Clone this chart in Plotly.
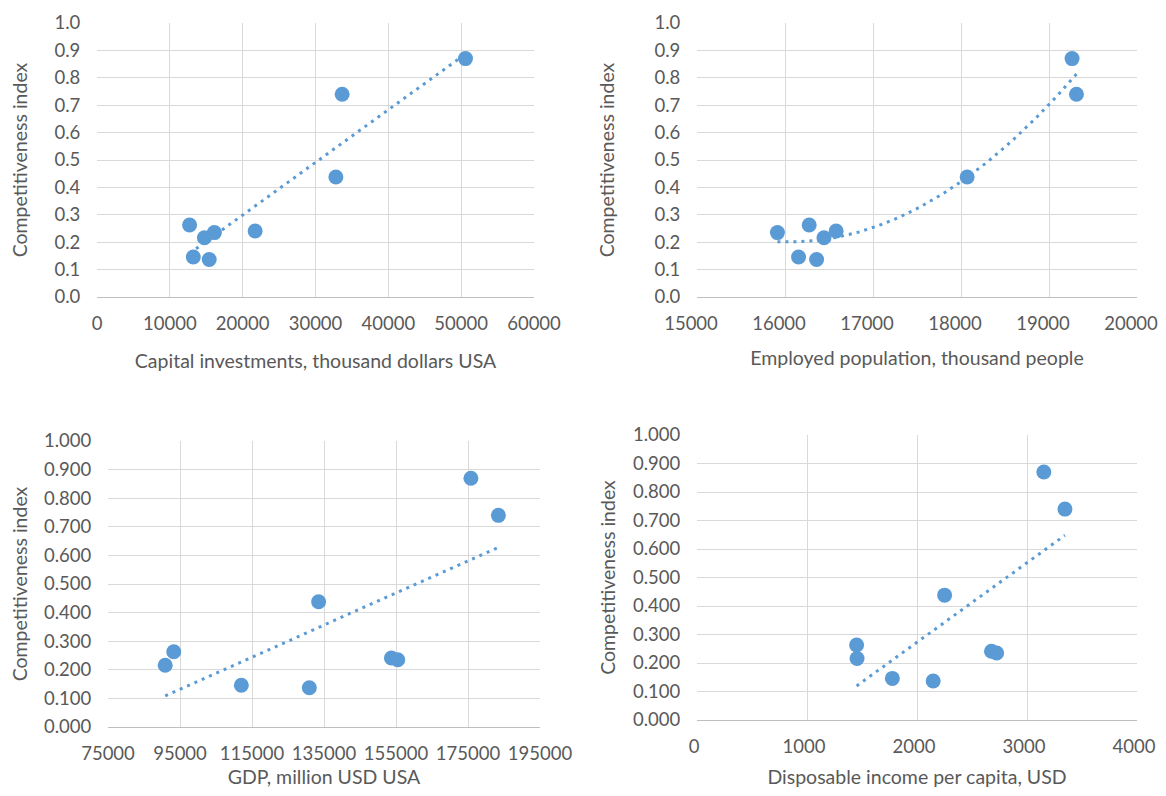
import numpy as np
import plotly.graph_objects as go
from plotly.subplots import make_subplots

# Competitiveness index of nine regions
competitiveness = [0.870, 0.740, 0.438, 0.241, 0.263, 0.146, 0.137, 0.216, 0.235]

capital_investments = [50593, 33661, 32797, 21712, 12712, 13220, 15407, 14746, 16119]
employed_population = [19262, 19312, 18070, 16581, 16275, 16154, 16359, 16443, 15914]
gdp = [175808, 183443, 133504, 153727, 93263, 112042, 130924, 90890, 155481]
disposable_income = [3153, 3345, 2251, 2677, 1451, 1776, 2147, 1455, 2724]

x_titles = ["Capital investments, thousand dollars USA",
            "Employed population, thousand people",
            "GDP, million USD USA",
            "Disposable income per capita, USD"]
y_title = "Competitiveness index"

x_ranges = [[0, 60000], [15000, 20000], [75000, 195000], [0, 4000]]
x_dticks = [10000, 1000, 20000, 1000]
y_formats = [".1f", ".1f", ".3f", ".3f"]
trend_orders = [1, 2, 1, 1]

xs = [capital_investments, employed_population, gdp, disposable_income]

BLUE = "#5b9bd5"
TXT = "#595959"
FONT = "Lato"

W, H, OFF = 1150, 780, 8  # page body margin offsets the figure by 8px


def dx(px):
    return (px - OFF) / W


def dy(py):
    return 1 - (py - OFF) / H


domains = [
    ([dx(97), dx(534)], [dy(297), dy(23)]),
    ([dx(697), dx(1137)], [dy(297), dy(23)]),
    ([dx(108), dx(540)], [dy(727), dy(441)]),
    ([dx(697), dx(1137)], [dy(720), dy(435)]),
]
y_standoffs = [22, 34, 14, 12]
x_standoffs = [21, 18, 22, 19]
x_label_shift = [0, -6, 0, -3]

fig = make_subplots(rows=2, cols=2)

for i, xv in enumerate(xs):
    r, c = i // 2 + 1, i % 2 + 1
    xa = np.array(xv, dtype=float)
    ya = np.array(competitiveness, dtype=float)
    coef = np.polyfit(xa, ya, trend_orders[i])
    xt = np.linspace(xa.min(), xa.max(), 200)
    yt = np.polyval(coef, xt)
    fig.add_trace(go.Scatter(x=xt, y=yt, mode="lines",
                             line=dict(color=BLUE, width=3, dash="3px,5px"),
                             hoverinfo="skip", showlegend=False), row=r, col=c)
    fig.add_trace(go.Scatter(x=xv, y=competitiveness, mode="markers",
                             marker=dict(color=BLUE, size=15),
                             showlegend=False), row=r, col=c)
    idx = "" if i == 0 else str(i + 1)
    fig.layout["xaxis" + idx].update(
        domain=domains[i][0], range=x_ranges[i], dtick=x_dticks[i], tick0=x_ranges[i][0],
        tickformat="d", showgrid=True, gridcolor="#d9d9d9", gridwidth=1,
        zeroline=False, showline=True, linecolor="#bfbfbf", linewidth=1.3,
        ticks="outside", ticklen=10, tickcolor="rgba(0,0,0,0)", automargin=False,
        ticklabeloverflow="allow", ticklabelshift=x_label_shift[i],
        tickfont=dict(family=FONT, size=18.5, color=TXT),
        title=dict(text=x_titles[i], font=dict(family=FONT, size=19.5, color=TXT),
                   standoff=x_standoffs[i]),
    )
    fig.layout["yaxis" + idx].update(
        domain=domains[i][1], range=[0, 1], dtick=0.1, tickformat=y_formats[i],
        showgrid=True, gridcolor="#d9d9d9", gridwidth=1,
        zeroline=False, showline=False, automargin=False,
        ticks="outside", ticklen=12, tickcolor="rgba(0,0,0,0)",
        tickfont=dict(family=FONT, size=18.5, color=TXT),
        title=dict(text=y_title, font=dict(family=FONT, size=19.5, color=TXT),
                   standoff=y_standoffs[i]),
    )

fig.update_layout(width=W, height=H, margin=dict(l=0, r=0, t=0, b=0),
                  plot_bgcolor="white", paper_bgcolor="white")

fig.write_html("out.html")
